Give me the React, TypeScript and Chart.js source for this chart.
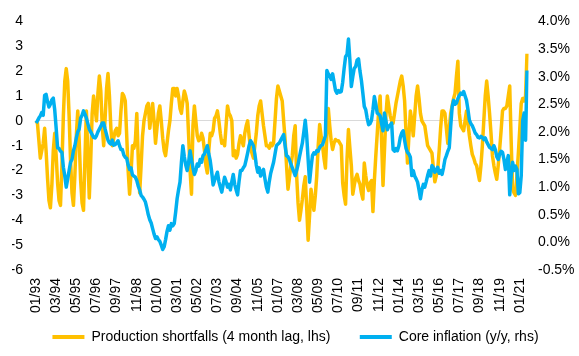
import React, { useEffect, useRef } from 'react';
import { Chart, registerables } from 'chart.js';

Chart.register(...registerables);

// Monthly data, 01/93 .. 06/21
const START_YEAR = 1993;
const TICK_EVERY = 14;

// Production shortfalls (4 month lag, lhs)
const productionShortfalls: number[] = [
  0, -0.1, -0.8, -1.5, -1.2, -0.9, -0.3, -1.2, -2.3, -3.2,
  -3.5, -2.6, -1.2, -0.5, -1.4, -2.5, -3.2, -3.4, -1.8, 0.2,
  1.6, 2.1, 1.6, 0.2, -1.6, -2.9, -3.4, -2.2, -0.6, 0.4,
  -0.8, -2.4, -3.3, -3.6, -1.5, 0.4, -1.4, -3.1, -1.6, 0.3,
  1.0, 0.5, 0.0, 1.1, 1.8, 1.2, -0.2, -1.0, 0.1, 1.3,
  1.9, 1.0, -0.3, -1.0, -0.7, -0.4, -0.3, -0.6, -0.5, 0.4,
  1.1, 1.0, 0.8, -0.6, -2.0, -2.95, -2.1, -1.0, -1.1, -0.8,
  0.3, -1.5, -2.9, -1.8, -0.6, 0.0, 0.3, 0.6, 0.7, -0.3,
  0.2, 0.7, 0.0, -0.9, -0.3, 0.3, 0.6, 0.0, -0.7, -1.2,
  -1.4, -0.9, -0.4, 0.0, 0.7, 1.3, 1.3, 1.0, 1.3, 1.0,
  0.5, 0.3, 0.8, 1.2, 1.0, 0.7, -0.6, -2.0, -2.95, -0.2,
  0.6, 0.0, -0.6, -0.8, -0.75, -0.5, -0.7, -1.2, -1.8, -2.1,
  -1.2, -0.5, -0.6, -0.4, 0.1, 0.2, 0.4, 0.0, -0.5, -0.9,
  -0.8, -1.0, -0.2, 0.6, 0.3, 0.2, 0.0, -1.4, -1.2, -1.5,
  -1.35, -0.9, -0.6, -0.8, -1.0, -0.5, -0.2, 0.0, -0.6, -1.15,
  -1.3, -1.5, -1.0, -0.5, 0.2, 0.6, 0.8, 0.3, -0.2, -0.6,
  -1.0, -1.0, -1.1, -0.9, -1.0, -0.9, 0.0, 0.9, 1.4, 1.2,
  1.0, 0.8, 0.0, -0.75, -1.8, -2.75, -2.3, -1.8, -1.4, -0.6,
  -0.2, -2.2, -3.3, -4.0, -3.6, -3.15, -2.6, -2.25, -3.5, -4.8,
  -3.8, -2.75, -3.2, -3.6, -3.0, -2.2, -1.0, -0.15, -0.6, -1.0,
  -1.5, -1.9, -0.6, 0.5, -0.2, -0.8, -1.15, -0.9, -0.75, -0.8,
  -0.8, -0.9, -1.0, -2.5, -3.0, -3.35, -1.55, -0.35, -1.1, -1.8,
  -2.95, -2.6, -2.3, -2.15, -2.4, -2.55, -2.9, -3.15, -1.7, -2.2,
  -2.6, -2.8, -2.5, -2.4, -3.65, -2.4, -1.4, -0.5, 0.4, 1.0,
  -0.8, -2.6, -1.2, 0.2, 1.0, 0.6, 0.2, 0.0, -0.1, 0.3,
  0.7, 1.0, 1.3, 1.6, 1.8, 1.4, 0.8, -0.5, -1.7, -0.6,
  0.4, 0.0, -0.6, 0.2, 1.0, 1.4, 0.9, 0.3, 0.0, -0.1,
  -0.2, -0.6, -1.0, -1.1, -1.2, -1.3, -1.9, -2.45, -2.2, -1.95,
  -1.2, -0.3, 0.4, 0.4, 0.3, -0.3, -0.9, -0.3, 0.3, 0.6,
  0.9, 1.1, 1.8, 2.4, 0.3, -0.2, -0.3, -0.4, 0.0, 0.4,
  -0.1, -0.6, -1.0, -1.35, -1.5, -1.7, -1.8, -2.1, -2.4, -1.8,
  -1.0, 0.0, 1.0, 1.6, 1.0, 0.3, -0.5, -1.4, -1.8, -2.1,
  -2.35, -1.8, -1.15, -0.4, 0.4, 0.5, 0.5, 0.6, 1.0, 1.4,
  -0.8, -2.75, -2.9, -3.0, -2.2, -1.3, -0.3, 0.7, 0.9, 0.8,
  1.0, 2.7,
];

// Core inflation (y/y, rhs), %
const coreInflation: number[] = [
  2.16, 2.2, 2.25, 2.29, 2.35, 2.3, 2.66, 2.68, 2.55, 2.45,
  2.5, 2.58, 2.61, 2.4, 2.07, 1.71, 1.7, 1.65, 1.63, 1.36,
  1.2, 1.0, 1.15, 1.3, 1.45, 1.5, 1.66, 1.75, 1.89, 2.0,
  2.05, 2.25, 2.3, 2.38, 2.32, 2.25, 2.15, 2.05, 2.0, 1.95,
  1.9, 1.89, 1.93, 2.0, 2.05, 2.1, 2.16, 2.16, 2.05, 1.95,
  1.85, 1.8, 1.78, 1.85, 1.76, 1.77, 1.8, 1.84, 1.75, 1.68,
  1.68, 1.58, 1.54, 1.52, 1.4, 1.32, 1.35, 1.22, 1.2, 1.18,
  1.12, 1.02, 0.95, 0.85, 0.82, 0.78, 0.73, 0.62, 0.5, 0.41,
  0.35, 0.25, 0.15, 0.07, 0.1, 0.05, 0.02, -0.05, -0.13, -0.08,
  0.05, 0.2, 0.3, 0.22, 0.34, 0.3, 0.34, 0.55, 0.79, 0.95,
  1.09, 1.45, 1.75, 1.55, 1.4, 1.3, 1.45, 1.66, 1.5, 1.35,
  1.23, 1.3, 1.42, 1.38, 1.5, 1.45, 1.57, 1.6, 1.68, 1.75,
  1.6, 1.48, 1.28, 1.04, 1.12, 1.2, 1.27, 1.1, 1.0, 0.91,
  1.05, 1.18, 1.1, 1.0, 1.05, 0.95, 1.1, 1.23, 1.05, 0.95,
  0.86, 1.1, 1.3, 1.3, 1.35, 1.39, 1.5, 1.62, 1.75, 1.84,
  1.8, 1.75, 1.6, 1.4, 1.27, 1.35, 1.2, 1.28, 1.32, 1.15,
  1.0, 0.91, 1.1, 1.25, 1.35, 1.45, 1.6, 1.75, 1.78, 1.8,
  1.85, 1.9, 1.95, 1.75, 1.57, 1.55, 1.5, 1.42, 1.35, 1.28,
  1.21, 1.3, 1.41, 1.55, 1.68, 1.8, 2.0, 2.21, 1.93, 1.5,
  1.09, 1.35, 1.57, 1.62, 1.6, 1.66, 1.65, 1.72, 1.75, 1.77,
  1.85, 1.93, 3.11, 3.05, 3.02, 2.95, 3.05, 2.9, 2.75, 2.7,
  2.75, 2.72, 2.73, 2.9, 3.15, 3.36, 3.4, 3.68, 3.3, 2.82,
  3.0, 3.15, 3.18, 3.3, 3.32, 3.1, 2.93, 2.7, 2.46, 2.4,
  2.25, 2.13, 2.15, 2.21, 2.4, 2.64, 2.5, 2.34, 2.32, 2.29,
  2.15, 2.02, 2.34, 2.2, 2.04, 2.1, 2.12, 2.16, 1.68, 1.65,
  1.7, 1.66, 1.75, 1.9, 1.98, 2.02, 1.85, 1.7, 1.63, 1.6,
  1.54, 1.21, 1.3, 1.2, 1.15, 1.09, 0.95, 0.79, 0.95, 1.05,
  1.0, 1.1, 1.21, 1.3, 1.2, 1.39, 1.35, 1.27, 1.3, 1.36,
  1.25, 1.3, 1.23, 1.35, 1.5, 1.57, 1.65, 1.71, 2.1, 2.45,
  2.57, 2.5, 2.52, 2.6, 2.66, 2.7, 2.68, 2.73, 2.65, 2.57,
  2.4, 2.21, 2.15, 2.11, 2.05, 1.98, 1.95, 1.9, 1.89, 1.92,
  1.9, 1.86, 1.89, 1.82, 1.77, 1.72, 1.7, 1.68, 1.75, 1.68,
  1.55, 1.5, 1.6, 1.65, 1.63, 1.5, 1.32, 1.45, 1.57, 0.86,
  1.2, 1.45, 1.3, 1.38, 1.32, 0.88, 0.9, 1.21, 2.2, 2.34,
  1.85, 3.11,
];

const monthLabels: string[] = productionShortfalls.map((_, i) => {
  const y = START_YEAR + Math.floor(i / 12);
  const m = (i % 12) + 1;
  return `${String(m).padStart(2, '0')}/${String(y % 100).padStart(2, '0')}`;
});

const seriesNames = ['Production shortfalls (4 month lag, lhs)', 'Core inflation (y/y, rhs)'];

const FONT = '"Liberation Sans", Arial, Helvetica, sans-serif';

export default function App() {
  const ref = useRef<HTMLCanvasElement | null>(null);

  useEffect(() => {
    if (!ref.current) return;
    const font = { family: FONT, size: 14 };
    const chart = new Chart(ref.current, {
      type: 'line',
      data: {
        labels: monthLabels,
        datasets: [
          {
            label: seriesNames[0],
            data: productionShortfalls,
            borderColor: '#FFC000',
            backgroundColor: '#FFC000',
            borderWidth: 3.5,
            pointRadius: 0,
            tension: 0,
            yAxisID: 'y',
            order: 1,
            borderJoinStyle: 'round',
          },
          {
            label: seriesNames[1],
            data: coreInflation,
            borderColor: '#00B0F0',
            backgroundColor: '#00B0F0',
            borderWidth: 3.5,
            pointRadius: 0,
            tension: 0,
            yAxisID: 'y1',
            order: 0,
            borderJoinStyle: 'round',
          },
        ],
      },
      options: {
        responsive: false,
        animation: false,
        layout: { padding: { top: 17, left: 12, right: 0, bottom: 2 } },
        plugins: {
          tooltip: { enabled: false },
          legend: {
            position: 'bottom',
            labels: {
              font,
              color: '#000',
              boxWidth: 32,
              boxHeight: 4,
              padding: 10,
              sort: (a: any, b: any) => a.datasetIndex - b.datasetIndex,
              generateLabels: (c: any) =>
                Chart.defaults.plugins.legend.labels
                  .generateLabels(c)
                  .map((l: any) => ({
                    ...l,
                    lineWidth: 0,
                    text: l.datasetIndex === 0 ? l.text + '     ' : l.text,
                  })),
            },
          },
        },
        scales: {
          x: {
            type: 'category',
            offset: false,
            grid: { display: false, drawTicks: false },
            border: { display: false },
            ticks: {
              autoSkip: false,
              minRotation: 90,
              maxRotation: 90,
              padding: 8,
              font,
              color: '#000',
              callback: (_v: any, i: number) => (i % TICK_EVERY === 0 ? monthLabels[i] : ''),
            },
            afterFit: (s: any) => {
              s.height = 50;
            },
          },
          y: {
            position: 'left',
            min: -6,
            max: 4,
            ticks: { stepSize: 1, padding: 13, font, color: '#000' },
            grid: {
              drawTicks: false,
              color: (ctx: any) => (ctx.tick && ctx.tick.value === 0 ? '#D9D9D9' : 'rgba(0,0,0,0)'),
              lineWidth: 1,
            },
            border: { display: false },
            afterFit: (s: any) => {
              s.width = 24;
            },
          },
          y1: {
            position: 'right',
            min: -0.5,
            max: 4,
            ticks: {
              stepSize: 0.5,
              padding: 11,
              font,
              color: '#000',
              callback: (v: any) => Number(v).toFixed(1) + '%',
            },
            grid: { display: false, drawTicks: false },
            border: { display: false },
            afterFit: (s: any) => {
              s.width = 52;
            },
          },
        },
      },
    } as any);
    return () => chart.destroy();
  }, []);

  return (
    <div style={{ position: 'fixed', left: 0, top: 0, width: 579, height: 356, background: '#fff' }}>
      <canvas ref={ref} width={579} height={356} style={{ display: 'block' }} />
    </div>
  );
}
